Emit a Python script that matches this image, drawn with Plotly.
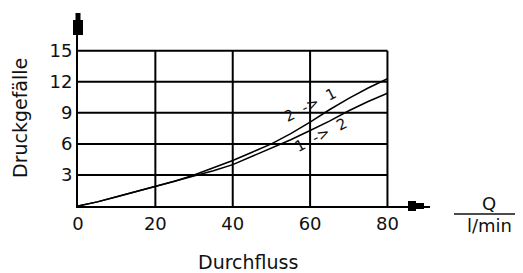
import math
import plotly.graph_objects as go

flow = [0, 5, 10, 15, 20, 25, 30, 35, 40, 45, 50, 55, 60, 65, 70, 75, 80]
drop_2_to_1 = [0, 0.4, 0.9, 1.4, 1.9, 2.4, 3.0, 3.7, 4.4, 5.2, 6.0, 7.0, 8.1, 9.3, 10.4, 11.4, 12.3]
drop_1_to_2 = [0, 0.4, 0.9, 1.4, 1.9, 2.4, 2.9, 3.4, 4.0, 4.8, 5.6, 6.4, 7.3, 8.2, 9.2, 10.1, 10.9]

x_ticks = [0, 20, 40, 60, 80]
y_ticks = [3, 6, 9, 12, 15]

FONT = "DejaVu Sans"
INK = "#111111"

# page offset (browser body margin) and plot-area geometry in figure pixels
OFF = 8
L, T, PW, PH = 70, 5, 352, 193
W, H = 523, 273


def px(X):
    return (X - OFF - L) / PW


def py(Y):
    return (T + PH - (Y - OFF)) / PH


fig = go.Figure()
fig.add_trace(go.Scatter(x=flow, y=drop_2_to_1, mode="lines",
                         line=dict(color="black", width=1.5), hoverinfo="skip"))
fig.add_trace(go.Scatter(x=flow, y=drop_1_to_2, mode="lines",
                         line=dict(color="black", width=1.5), hoverinfo="skip"))

shapes = []
for gy in y_ticks:
    shapes.append(dict(type="line", xref="x", yref="y", x0=0, x1=max(x_ticks), y0=gy, y1=gy,
                       line=dict(color="black", width=2), layer="below"))
for gx in x_ticks[1:]:
    shapes.append(dict(type="line", xref="x", yref="y", x0=gx, x1=gx, y0=0, y1=max(y_ticks),
                       line=dict(color="black", width=2), layer="below"))


def white_box(cx, cy, length, height, angle_deg):
    """Rotated white box (window pixels) drawn under the curves, over the grid."""
    a = math.radians(angle_deg)
    ux, uy = math.cos(a), -math.sin(a)
    vx, vy = math.sin(a), math.cos(a)
    pts = []
    for s, t in [(-1, -1), (1, -1), (1, 1), (-1, 1)]:
        X = cx + s * length / 2 * ux + t * height / 2 * vx
        Y = cy + s * length / 2 * uy + t * height / 2 * vy
        pts.append((px(X), py(Y)))
    path = "M " + " L ".join(f"{p[0]:.5f} {p[1]:.5f}" for p in pts) + " Z"
    return dict(type="path", xref="paper", yref="paper", path=path,
                fillcolor="white", line=dict(width=0), layer="below")


shapes.append(white_box(310, 104.6, 64, 15, 27))
shapes.append(white_box(321, 135, 64, 15, 27))


def rect(x0, y0, x1, y1, color="black"):
    return dict(type="rect", xref="paper", yref="paper",
                x0=px(x0), x1=px(x1), y0=py(y1), y1=py(y0),
                fillcolor=color, line=dict(width=0))


# axis arrowheads (window pixel boxes)
shapes.append(rect(73, 20, 83, 35))
shapes.append(rect(75.5, 13, 80.5, 21))
shapes.append(rect(408, 201, 416, 211))
shapes.append(rect(415, 203, 424, 209))
# fraction bar for the unit
shapes.append(dict(type="line", xref="paper", yref="paper", x0=px(454), x1=px(523),
                   y0=py(214), y1=py(214), line=dict(color=INK, width=1.5)))


def label(text, X, Y, size, angle=0):
    return dict(text=text, x=px(X), y=py(Y), xref="paper", yref="paper", showarrow=False,
                xanchor="center", yanchor="middle", textangle=angle,
                font=dict(family=FONT, size=size, color=INK))


annotations = [
    dict(text="2  ->  1", x=60.0, y=9.8, xref="x", yref="y", showarrow=False, textangle=-27,
         xanchor="center", yanchor="middle",
         font=dict(family=FONT, size=15, color=INK)),
    dict(text="1  ->  2", x=62.8, y=6.85, xref="x", yref="y", showarrow=False, textangle=-27,
         xanchor="center", yanchor="middle",
         font=dict(family=FONT, size=15, color=INK)),
    label("Durchfluss", 248, 262, 19),
    label("Druckgefälle", 20, 118, 19, -90),
    label("Q", 489, 203, 18),
    label("l/min", 489, 225.5, 18),
]

fig.update_layout(
    width=W, height=H,
    margin=dict(l=L, r=W - L - PW, t=T, b=H - T - PH, autoexpand=False),
    paper_bgcolor="white", plot_bgcolor="white",
    showlegend=False,
    shapes=shapes, annotations=annotations,
    xaxis=dict(range=[0, 91], tickvals=x_ticks, ticktext=[str(v) for v in x_ticks],
               showgrid=False, zeroline=False, showline=True, linecolor="black", linewidth=2,
               ticks="", tickfont=dict(family=FONT, size=18, color=INK)),
    yaxis=dict(range=[0, 18.65], tickvals=y_ticks, ticktext=[str(v) for v in y_ticks],
               showgrid=False, zeroline=False, showline=True, linecolor="black", linewidth=2,
               ticks="", tickfont=dict(family=FONT, size=18, color=INK)),
)

fig.write_html("out.html")
